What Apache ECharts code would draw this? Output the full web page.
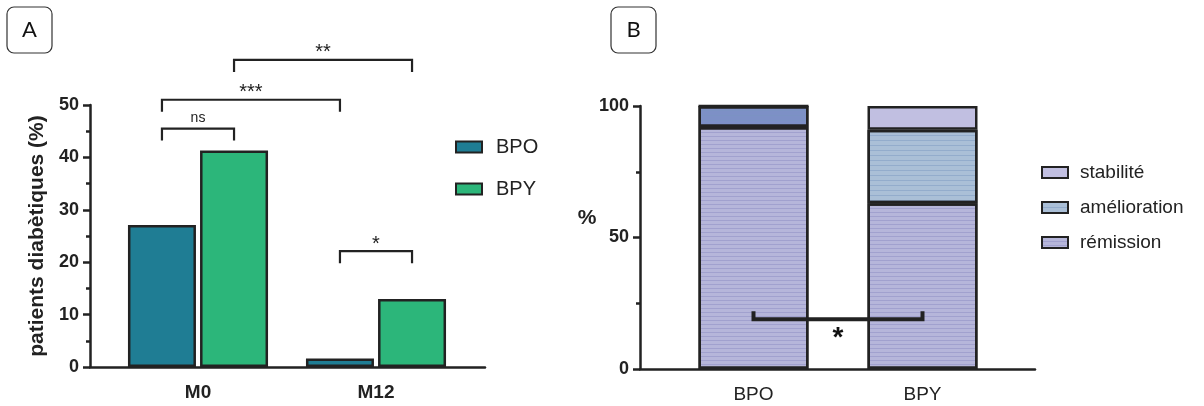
<!DOCTYPE html>
<html><head><meta charset="utf-8">
<script src="https://cdn.jsdelivr.net/npm/echarts@6/dist/echarts.min.js"></script>
<style>html,body{margin:0;padding:0;background:#fff}#c{width:1204px;height:406px}</style>
</head><body><div id="c"></div>
<script>
// ---- data ----
const categoriesA = ['M0', 'M12'];
const seriesNamesA = ['BPO', 'BPY'];
const bpoValues = [27.1, 1.6];
const bpyValues = [41.3, 13.0];
const yTicksA = [0, 10, 20, 30, 40, 50];

const groupsB = ['BPO', 'BPY'];
const seriesNamesB = ['rémission', 'amélioration', 'stabilité'];
const remissionValues = [92, 63];
const ameliorationValues = [8, 28];
const stabiliteValues = [0, 9];
const yTicksB = [0, 50, 100];

// significance annotations: [cat1, series1, cat2, series2, level, label]
const sigA = [
  [0, 0, 0, 1, 45.5, 'ns'],
  [0, 0, 1, 0, 51.0, '***'],
  [0, 1, 1, 1, 58.6, '**'],
  [1, 0, 1, 1, 22.1, '*']
];
const sigB = [[0, 1, 18.9, '*']];

// ---- styles ----
const FONT = '"Liberation Sans", Arial, sans-serif';
const INK = '#222';
const colorsA = ['#1F7D94', '#2CB67A'];
const BAR_W_A = 68, GAP_A = 0.06;
const BAR_W_B = 110;

const chart = echarts.init(document.getElementById('c'), null, {renderer: 'canvas'});

const axisLineStyle = {show: true, lineStyle: {color: INK, width: 2.5}};
function dummyX(grid) {
  return {gridIndex: grid, type: 'value', min: 0, max: 1, axisLine: axisLineStyle,
    axisTick: {show: false}, axisLabel: {show: false}, splitLine: {show: false}};
}
function hiddenY(grid, max) {
  return {gridIndex: grid, type: 'value', min: 0, max: max, show: false, splitLine: {show: false}};
}

const option = {
  animation: false,
  backgroundColor: '#fff',
  textStyle: {fontFamily: FONT},
  grid: [
    {left: 90, top: 105, width: 395, height: 262},
    {left: 109, top: 105, width: 356, height: 262},
    {left: 640, top: 106, width: 395, height: 263},
    {left: 669, top: 106, width: 338, height: 263}
  ],
  xAxis: [
    dummyX(0),
    {gridIndex: 1, type: 'category', data: categoriesA, axisLine: {show: false}, axisTick: {show: false},
      axisLabel: {fontWeight: 'bold', fontSize: 19, color: INK, margin: 16, fontFamily: FONT}},
    dummyX(2),
    {gridIndex: 3, type: 'category', data: groupsB, axisLine: {show: false}, axisTick: {show: false},
      axisLabel: {fontSize: 19, color: INK, margin: 16, fontFamily: FONT}}
  ],
  yAxis: [
    {gridIndex: 0, type: 'value', min: yTicksA[0], max: yTicksA[yTicksA.length - 1], interval: yTicksA[1] - yTicksA[0],
      axisLine: axisLineStyle,
      axisTick: {show: true, length: 7, lineStyle: {color: INK, width: 2.5}},
      minorTick: {show: true, splitNumber: 2, length: 4, lineStyle: {color: INK, width: 2.5}},
      axisLabel: {fontWeight: 'bold', fontSize: 18, color: INK, margin: 11, fontFamily: FONT},
      splitLine: {show: false},
      name: 'patients diabètiques (%)', nameLocation: 'middle', nameGap: 42,
      nameTextStyle: {fontWeight: 'bold', fontSize: 21, color: INK, fontFamily: FONT}},
    hiddenY(1, yTicksA[yTicksA.length - 1]),
    {gridIndex: 2, type: 'value', min: yTicksB[0], max: yTicksB[yTicksB.length - 1], interval: yTicksB[1] - yTicksB[0],
      axisLine: axisLineStyle,
      axisTick: {show: true, length: 7, lineStyle: {color: INK, width: 2.5}},
      minorTick: {show: true, splitNumber: 2, length: 4, lineStyle: {color: INK, width: 2.5}},
      axisLabel: {fontWeight: 'bold', fontSize: 18, color: INK, margin: 11, fontFamily: FONT},
      splitLine: {show: false}},
    hiddenY(3, yTicksB[yTicksB.length - 1])
  ],
  legend: [
    {data: seriesNamesA, orient: 'vertical', left: 450, top: 132, itemWidth: 26, itemHeight: 11, itemGap: 22,
      icon: 'rect', itemStyle: {borderColor: INK, borderWidth: 2},
      textStyle: {fontSize: 20, color: INK, fontFamily: FONT, padding: [0, 0, 0, 9]}},
    {data: seriesNamesB.slice().reverse(), orient: 'vertical', left: 1036, top: 158, itemWidth: 26, itemHeight: 11, itemGap: 16,
      icon: 'rect', itemStyle: {borderColor: INK, borderWidth: 2},
      textStyle: {fontSize: 19, color: INK, fontFamily: FONT, padding: [0, 0, 0, 7]}}
  ],
  series: [
    {name: seriesNamesA[0], type: 'bar', xAxisIndex: 1, yAxisIndex: 1, data: bpoValues,
      barWidth: BAR_W_A, barGap: (GAP_A * 100) + '%',
      itemStyle: {color: colorsA[0], borderColor: INK, borderWidth: 2.5}},
    {name: seriesNamesA[1], type: 'bar', xAxisIndex: 1, yAxisIndex: 1, data: bpyValues,
      barWidth: BAR_W_A, barGap: (GAP_A * 100) + '%',
      itemStyle: {color: colorsA[1], borderColor: INK, borderWidth: 2.5}},
    {name: seriesNamesB[0], type: 'bar', stack: 'b', xAxisIndex: 3, yAxisIndex: 3, data: remissionValues,
      barWidth: BAR_W_B,
      itemStyle: {color: '#B6B6DA', borderColor: INK, borderWidth: 2.5,
        decal: {symbol: 'rect', symbolSize: 1, dashArrayX: [1, 0], dashArrayY: [1, 3], rotation: 0, color: 'rgba(135,135,190,0.45)'}}},
    {name: seriesNamesB[1], type: 'bar', stack: 'b', xAxisIndex: 3, yAxisIndex: 3,
      data: ameliorationValues.map((v, i) => ({value: v, itemStyle: {color: i === 0 ? '#7D90C6' : '#AABFD7'}})),
      barWidth: BAR_W_B,
      itemStyle: {color: '#AABFD7', borderColor: INK, borderWidth: 2.5,
        decal: {symbol: 'rect', symbolSize: 1, dashArrayX: [1, 0], dashArrayY: [1, 4], rotation: 0, color: 'rgba(120,148,190,0.45)'}}},
    {name: seriesNamesB[2], type: 'bar', stack: 'b', xAxisIndex: 3, yAxisIndex: 3, data: stabiliteValues,
      barWidth: BAR_W_B,
      itemStyle: {color: '#C1BFE1', borderColor: INK, borderWidth: 2.5}}
  ]
};
chart.setOption(option);

// ---- annotations positioned through the axes ----
const graphics = [];
function panelBox(x, letter) {
  graphics.push({type: 'rect', z: 100, shape: {x: x, y: 7, width: 45, height: 46, r: 7},
    style: {fill: '#fff', stroke: '#333', lineWidth: 1.2}});
  graphics.push({type: 'text', z: 101, x: x + 22.5, y: 30, style: {text: letter, fontSize: 22, fontFamily: 'Lato, "Open Sans", sans-serif',
    fill: '#111', align: 'center', verticalAlign: 'middle'}});
}
panelBox(7, 'A');
panelBox(611, 'B');

// "%" title of panel B placed beside its y axis
const pctPos = chart.convertToPixel({xAxisIndex: 2, yAxisIndex: 2}, [0, 57.5]);
graphics.push({type: 'text', z: 100, x: pctPos[0] - 53, y: pctPos[1], style: {text: '%', fontSize: 21, fontWeight: 'bold',
  fontFamily: FONT, fill: INK, align: 'center', verticalAlign: 'middle'}});

const step = BAR_W_A * (1 + GAP_A);
function barX(cat, s) {
  const p = chart.convertToPixel({xAxisIndex: 1, yAxisIndex: 1}, [cat, 0]);
  return p[0] + (s - 0.5) * step;
}
function yA(v) { return chart.convertToPixel({xAxisIndex: 1, yAxisIndex: 1}, [0, v])[1]; }
sigA.forEach(([c1, s1, c2, s2, lvl, label]) => {
  const x1 = barX(c1, s1), x2 = barX(c2, s2), yt = yA(lvl), yb = yt + 12;
  graphics.push({type: 'polyline', z: 100, shape: {points: [[x1, yb], [x1, yt], [x2, yt], [x2, yb]]},
    style: {stroke: INK, lineWidth: 2.2, fill: null}});
  const isNs = label === 'ns';
  graphics.push({type: 'text', z: 100, x: (x1 + x2) / 2, y: isNs ? yt - 3 : yt + 3, style: {text: label, fontSize: isNs ? 14 : 20,
    fontFamily: FONT, fill: INK, align: 'center', verticalAlign: 'bottom'}});
});
sigB.forEach(([c1, c2, lvl, label]) => {
  const p1 = chart.convertToPixel({xAxisIndex: 3, yAxisIndex: 3}, [c1, lvl]);
  const p2 = chart.convertToPixel({xAxisIndex: 3, yAxisIndex: 3}, [c2, lvl]);
  const yb = p1[1], yt = yb - 8;
  graphics.push({type: 'polyline', z: 100, shape: {points: [[p1[0], yt], [p1[0], yb], [p2[0], yb], [p2[0], yt]]},
    style: {stroke: INK, lineWidth: 4, fill: null}});
  graphics.push({type: 'text', z: 100, x: (p1[0] + p2[0]) / 2, y: yb + 5, style: {text: label, fontSize: 28, fontWeight: 'bold',
    fontFamily: FONT, fill: '#111', align: 'center', verticalAlign: 'top'}});
});
chart.setOption({graphic: graphics});
</script></body></html>
